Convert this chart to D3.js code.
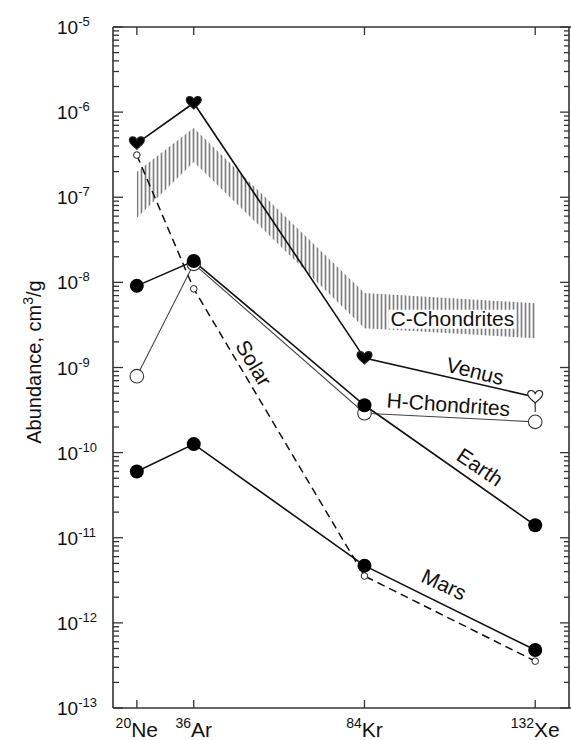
<!DOCTYPE html>
<html>
<head>
<meta charset="utf-8">
<script src="https://cdn.jsdelivr.net/npm/d3@7"></script>
<style>
  body { margin: 0; background: #fff; }
  text { font-family: "Liberation Sans", Arial, Helvetica, sans-serif; fill: #111; }
</style>
</head>
<body>
<div id="chart"></div>
<script>
// isotopes on the x axis (positioned by mass number)
const isotopes = ["Ne", "Ar", "Kr", "Xe"];
const massNumbers = [20, 36, 84, 132];

// abundances, cm3/g
const venus = [4.3e-7, 1.28e-6, 1.29e-9, 4.5e-10];
const earth = [9.1e-9, 1.78e-8, 3.6e-10, 1.4e-11];
const mars = [6.0e-11, 1.26e-10, 4.7e-12, 4.8e-13];
const solar = [3.13e-7, 8.4e-9, 3.55e-12, 3.55e-13];
const hChondrites = [7.9e-10, 1.65e-8, 2.9e-10, 2.3e-10];
// C-Chondrites range (hatched band)
const cChondritesHigh = [2.0e-7, 6.5e-7, 7.5e-9, 5.7e-9];
const cChondritesLow = [5.7e-8, 2.6e-7, 2.9e-9, 2.2e-9];

// decade ticks on the y axis
const yExponents = [-5, -6, -7, -8, -9, -10, -11, -12, -13];

// curve labels: position in data units + angle
const curveLabels = [
  { text: "Solar", mass: 52.9, value: 1.13e-9, angle: 59 },
  { text: "Venus", mass: 115.1, value: 9.1e-10, angle: 14 },
  { text: "H-Chondrites", mass: 107.6, value: 3.7e-10, angle: 4 },
  { text: "Earth", mass: 116.5, value: 6.8e-11, angle: 34 },
  { text: "Mars", mass: 106.4, value: 2.85e-12, angle: 25 }
];
const bandLabel = { text: "C-Chondrites", mass: 108.7, value: 3.8e-9 };

const width = 571, height = 740;
const margin = { top: 27, right: 1, bottom: 32, left: 113 };
const plotRight = width - margin.right;
const plotBottom = height - margin.bottom;

const svg = d3.select("#chart")
  .append("svg")
  .attr("width", width)
  .attr("height", height);

const x = d3.scaleLinear().domain([13.3, 141.5]).range([margin.left, plotRight - 1]);
const y = d3.scaleLog().domain([1e-13, 1e-5]).range([plotBottom, margin.top]);

// hatch pattern for the C-Chondrites band
svg.append("defs")
  .append("pattern")
  .attr("id", "hatch")
  .attr("patternUnits", "userSpaceOnUse")
  .attr("width", 4)
  .attr("height", 10)
  .append("line")
  .attr("x1", 1.5).attr("x2", 1.5)
  .attr("y1", 0).attr("y2", 10)
  .attr("stroke", "#7d7d7d")
  .attr("stroke-width", 1.7);

// ---- ticks (all pointing inward) ----
const majorTicks = yExponents.map(e => Math.pow(10, e));
const minorTicks = [];
yExponents.slice(1).forEach(e => {
  for (let k = 2; k <= 9; k++) minorTicks.push(k * Math.pow(10, e));
});
const yTicks = majorTicks.map(v => ({ v, len: 10 })).concat(minorTicks.map(v => ({ v, len: 6 })));

const ticks = svg.append("g").attr("stroke", "#333").attr("stroke-width", 1.3);
// left
ticks.selectAll(".tl").data(yTicks).join("line").attr("class", "tl")
  .attr("x1", margin.left).attr("x2", d => margin.left + d.len)
  .attr("y1", d => y(d.v)).attr("y2", d => y(d.v));
// right
ticks.selectAll(".tr").data(yTicks).join("line").attr("class", "tr")
  .attr("x1", plotRight - 1).attr("x2", d => plotRight - d.len)
  .attr("y1", d => y(d.v)).attr("y2", d => y(d.v));
// top
ticks.selectAll(".tt").data(massNumbers).join("line").attr("class", "tt")
  .attr("x1", d => x(d)).attr("x2", d => x(d))
  .attr("y1", margin.top).attr("y2", margin.top + 8);
// bottom
ticks.selectAll(".tb").data(massNumbers).join("line").attr("class", "tb")
  .attr("x1", d => x(d)).attr("x2", d => x(d))
  .attr("y1", plotBottom).attr("y2", plotBottom - 8);

// frame
const frame = svg.append("g").attr("stroke", "#333").attr("stroke-width", 1.6);
frame.append("line").attr("x1", margin.left).attr("x2", width).attr("y1", margin.top).attr("y2", margin.top);
frame.append("line").attr("x1", margin.left).attr("x2", width).attr("y1", plotBottom).attr("y2", plotBottom);
frame.append("line").attr("x1", margin.left).attr("x2", margin.left).attr("y1", margin.top).attr("y2", plotBottom);
frame.append("line").attr("x1", plotRight - 1).attr("x2", plotRight - 1).attr("y1", margin.top).attr("y2", plotBottom);

// y tick labels 10^n
svg.append("g")
  .selectAll("text")
  .data(yExponents)
  .join("text")
  .attr("x", 57)
  .attr("y", d => y(Math.pow(10, d)) + 7)
  .style("font-size", "19px")
  .each(function (d) {
    const t = d3.select(this);
    t.append("tspan").text("10");
    t.append("tspan").attr("dy", -8).style("font-size", "13px").text(d);
  });

// x tick labels with mass-number superscripts
svg.append("g")
  .selectAll("text")
  .data(isotopes)
  .join("text")
  .attr("x", (d, i) => x(massNumbers[i]))
  .attr("y", 737)
  .attr("text-anchor", "middle")
  .each(function (d, i) {
    const t = d3.select(this);
    t.append("tspan").attr("dy", -9).style("font-size", "14px").text(massNumbers[i]);
    t.append("tspan").attr("dy", 9).style("font-size", "21px").text(d);
  });

// y axis title
const yTitle = svg.append("text")
  .attr("transform", `translate(41,362) rotate(-90)`)
  .attr("text-anchor", "middle")
  .style("font-size", "20px");
yTitle.append("tspan").text("Abundance, cm");
yTitle.append("tspan").attr("dy", -8).style("font-size", "14px").text("3");
yTitle.append("tspan").attr("dy", 8).text("/g");

// ---- C-Chondrites band ----
const bandData = massNumbers.map((m, i) => ({ m, lo: cChondritesLow[i], hi: cChondritesHigh[i] }));
svg.append("path")
  .datum(bandData)
  .attr("fill", "url(#hatch)")
  .attr("d", d3.area().x(d => x(d.m)).y0(d => y(d.lo)).y1(d => y(d.hi)));

const bandText = svg.append("text")
  .attr("x", x(bandLabel.mass))
  .attr("y", y(bandLabel.value))
  .attr("dy", "0.36em")
  .attr("text-anchor", "middle")
  .style("font-size", "21px")
  .text(bandLabel.text);
const bb = bandText.node().getBBox();
svg.append("rect")
  .attr("x", bb.x - 2).attr("y", bb.y + 3)
  .attr("width", bb.width + 4).attr("height", bb.height - 4)
  .attr("fill", "#fff");
bandText.raise();

// ---- series lines ----
const line = d3.line().x(d => x(d.m)).y(d => y(d.v));
const toPoints = vals => vals.map((v, i) => ({ m: massNumbers[i], v }));

svg.append("path").datum(toPoints(solar))
  .attr("fill", "none").attr("stroke", "#111").attr("stroke-width", 1.5)
  .attr("stroke-dasharray", "8,5").attr("d", line);
svg.append("path").datum(toPoints(hChondrites))
  .attr("fill", "none").attr("stroke", "#444").attr("stroke-width", 1.1).attr("d", line);
[venus, earth, mars].forEach(s => {
  svg.append("path").datum(toPoints(s))
    .attr("fill", "none").attr("stroke", "#111").attr("stroke-width", 1.6).attr("d", line);
});

// ---- markers ----
svg.append("g").selectAll("circle")
  .data(toPoints(solar)).join("circle")
  .attr("cx", d => x(d.m)).attr("cy", d => y(d.v)).attr("r", 3.3)
  .attr("fill", "#fff").attr("stroke", "#222").attr("stroke-width", 1);

svg.append("g").selectAll("circle")
  .data(toPoints(hChondrites)).join("circle")
  .attr("cx", d => x(d.m)).attr("cy", d => y(d.v)).attr("r", 6.8)
  .attr("fill", "#fff").attr("stroke", "#333").attr("stroke-width", 1.1);

[earth, mars].forEach(s => {
  svg.append("g").selectAll("circle")
    .data(toPoints(s)).join("circle")
    .attr("cx", d => x(d.m)).attr("cy", d => y(d.v)).attr("r", 7)
    .attr("fill", "#000");
});

// Venus hearts: filled, last one open
const heart = "M0,6 C-3,3 -8,0 -7.5,-3.5 C-7,-7.5 -1.5,-7.5 0,-3.5 C1.5,-7.5 7,-7.5 7.5,-3.5 C8,0 3,3 0,6Z";
const venusPts = toPoints(venus);
const lastVenus = venusPts[venusPts.length - 1];
svg.append("line")
  .attr("x1", x(lastVenus.m)).attr("x2", x(lastVenus.m))
  .attr("y1", y(lastVenus.v) + 6).attr("y2", y(lastVenus.v) + 15)
  .attr("stroke", "#333").attr("stroke-width", 1.2);
svg.append("g").selectAll("path")
  .data(venusPts).join("path")
  .attr("transform", d => `translate(${x(d.m)},${y(d.v)})`)
  .attr("d", heart)
  .attr("fill", (d, i) => i === venusPts.length - 1 ? "#fff" : "#000")
  .attr("stroke", "#222").attr("stroke-width", 1.1);

// ---- curve labels ----
svg.append("g").selectAll("text")
  .data(curveLabels).join("text")
  .attr("transform", d => `translate(${x(d.mass)},${y(d.value)}) rotate(${d.angle})`)
  .attr("dy", "0.36em")
  .attr("text-anchor", "middle")
  .style("font-size", "21px")
  .text(d => d.text);
</script>
</body>
</html>
